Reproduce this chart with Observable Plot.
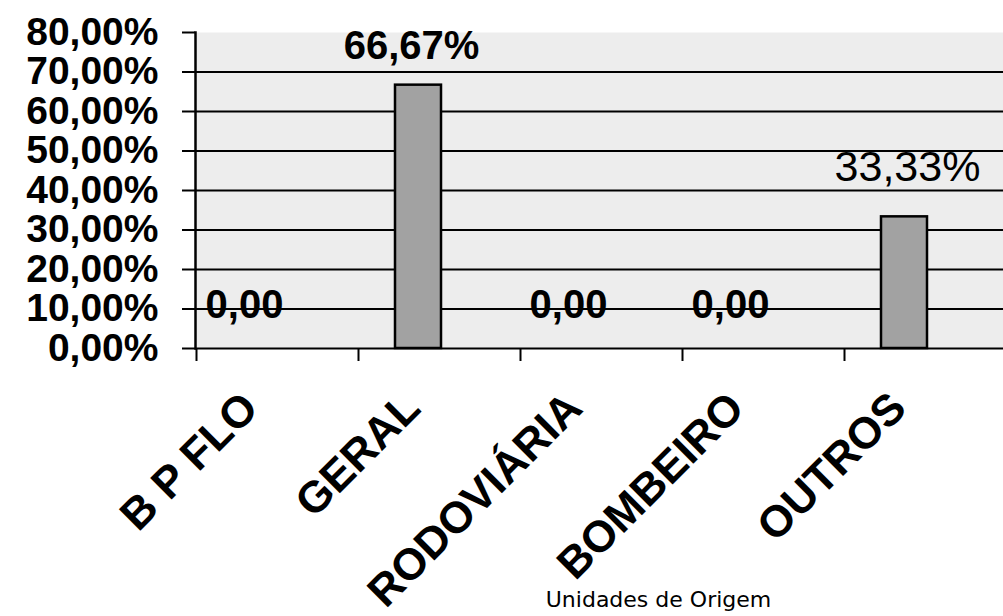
<!DOCTYPE html>
<html>
<head>
<meta charset="utf-8">
<script src="https://cdn.jsdelivr.net/npm/d3@7"></script>
<script src="https://cdn.jsdelivr.net/npm/@observablehq/plot@0.6"></script>
<style>
  html, body { margin: 0; padding: 0; background: white; }
  #chart { width: 1003px; height: 616px; overflow: hidden; }
</style>
</head>
<body>
<div id="chart"></div>
<script>
const categories = ["B P FLO", "GERAL", "RODOVIÁRIA", "BOMBEIRO", "OUTROS"];
const values = [0, 0.6667, 0, 0, 0.3333];
const valueLabels = ["0,00", "66,67%", "0,00", "0,00", "33,33%"];
const yTicks = [0, 0.1, 0.2, 0.3, 0.4, 0.5, 0.6, 0.7, 0.8];
const xTitle = "Unidades de Origem";

const data = categories.map((c, i) => ({cat: c, value: values[i], label: valueLabels[i]}));
const fmtPct = d => (d * 100).toFixed(2).replace(".", ",") + "%";

const chart = Plot.plot({
  width: 1003,
  height: 616,
  marginLeft: 195,
  marginRight: 0,
  marginTop: 32,
  marginBottom: 268,
  style: {fontFamily: "'Liberation Sans', Arial, sans-serif", background: "white", color: "black", overflow: "visible"},
  x: {domain: categories, range: [175, 985], padding: 0, label: null},
  y: {domain: [0, 0.8], label: null},
  marks: [
    Plot.frame({fill: "#ededed", stroke: null}),
    Plot.gridY(yTicks.filter(d => d > 0 && d < 0.8), {stroke: "black", strokeOpacity: 1, strokeWidth: 2}),
    Plot.ruleY([0], {stroke: "black", strokeWidth: 2}),
    Plot.barY(data, {x: "cat", y: "value", fill: "#a2a2a2", stroke: "black", strokeWidth: 2.5, insetLeft: 58, insetRight: 58}),
    Plot.axisY(yTicks, {tickSize: 13, tickPadding: 24, tickFormat: fmtPct, fontSize: 39, fontWeight: "bold", strokeWidth: 2}),
    Plot.frame({anchor: "left", stroke: "black", strokeWidth: 2.5}),
    Plot.axisX({tickSize: 13, tickFormat: () => "", dx: -60, strokeWidth: 2}),
    Plot.axisX({tickSize: 0, tickPadding: 52, tickRotate: -45, fontSize: 44, fontWeight: "bold", dx: -6}),
    Plot.text(data.filter(d => d.value === 0), {x: "cat", y: "value", text: "label", dy: -43, dx: -12, fontSize: 40, fontWeight: "bold"}),
    Plot.text(data.filter(d => d.label === "66,67%"), {x: "cat", y: "value", text: "label", dy: -39, dx: -7, fontSize: 40, fontWeight: "bold"}),
    Plot.text(data.filter(d => d.label === "33,33%"), {x: "cat", y: "value", text: "label", dy: -50, dx: 3, fontSize: 43}),
    Plot.text([xTitle], {frameAnchor: "bottom", dx: 59, dy: 258, fontSize: 22, fontFamily: "'DejaVu Sans', Verdana, sans-serif"})
  ]
});
document.getElementById("chart").appendChild(chart);
</script>
</body>
</html>
